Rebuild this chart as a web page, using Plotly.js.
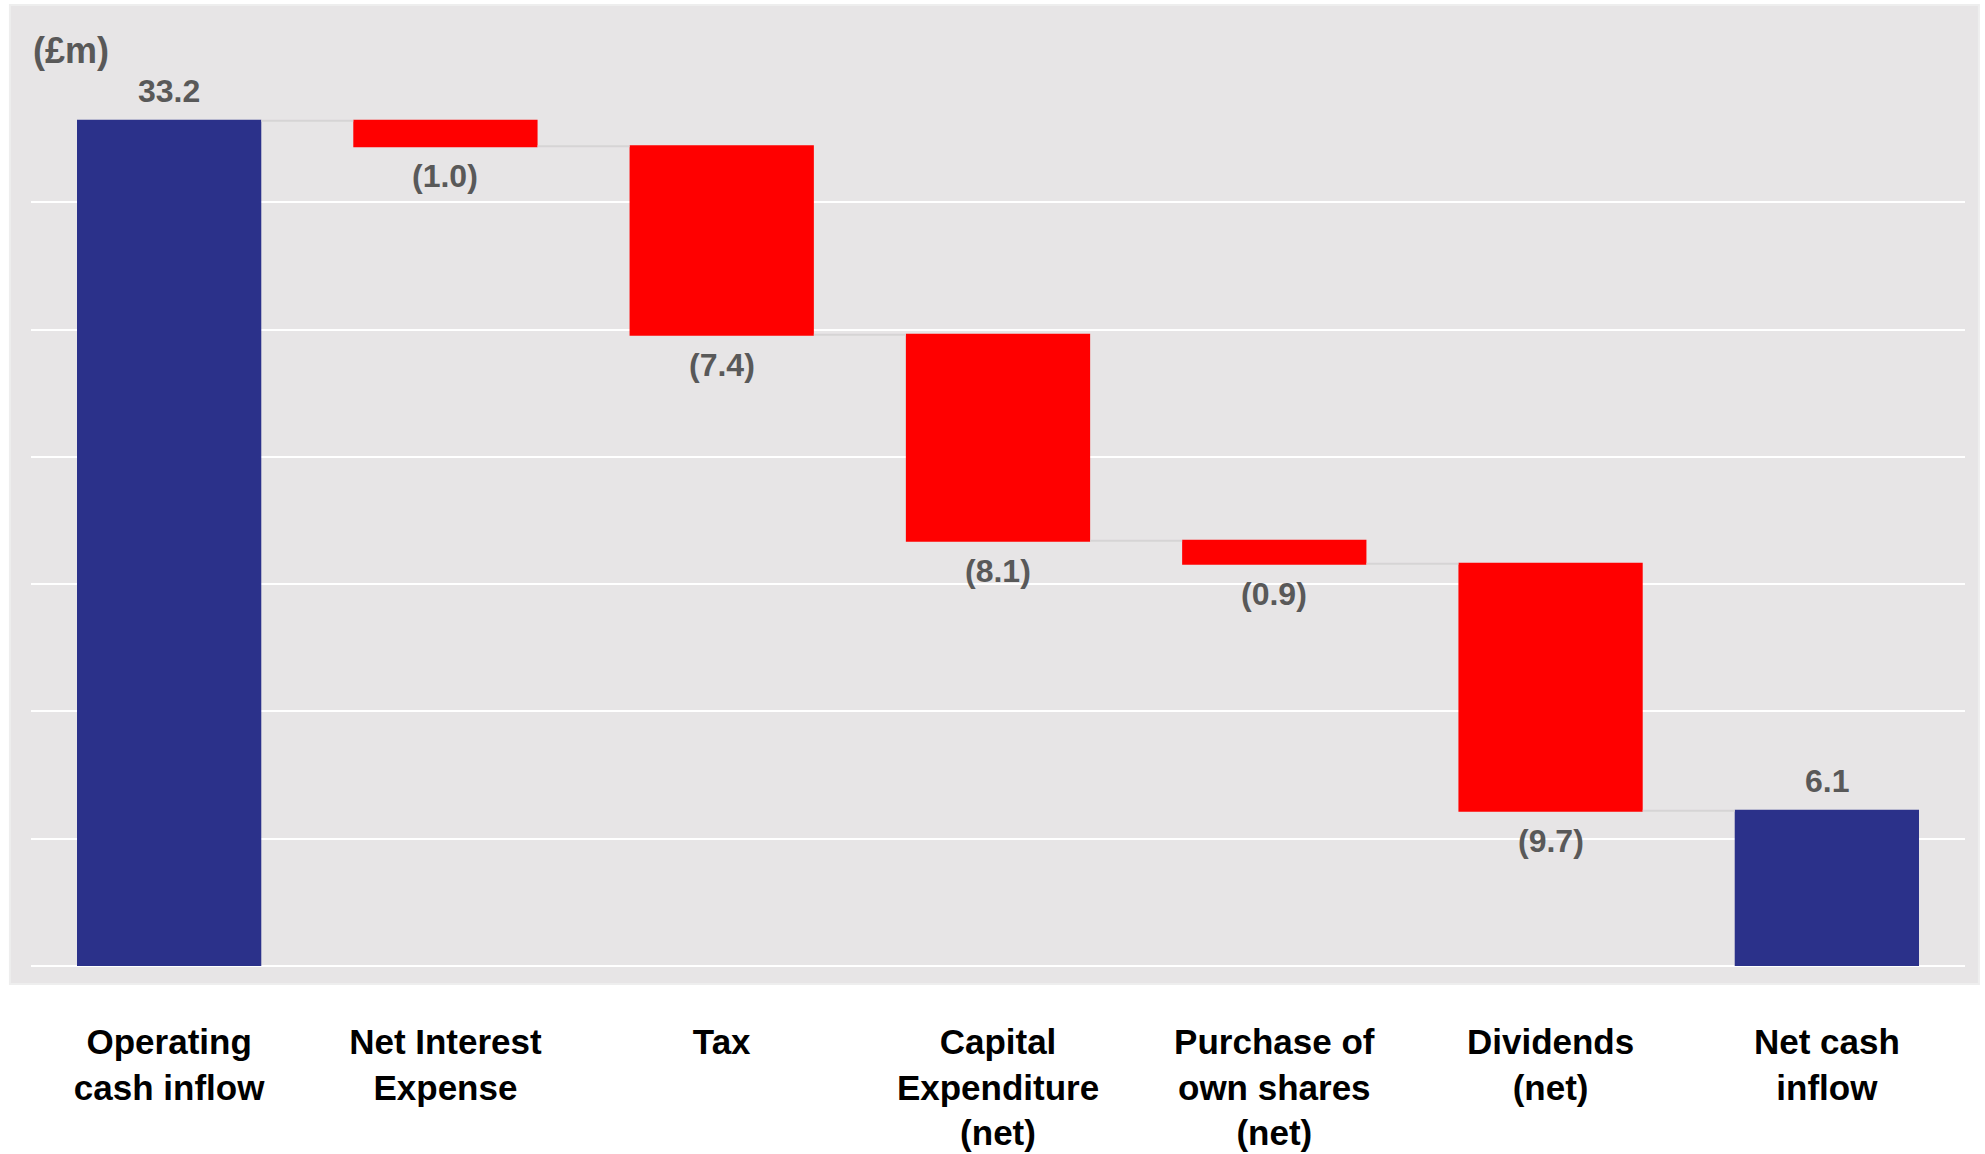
<!DOCTYPE html>
<html>
<head>
<meta charset="utf-8">
<script src="https://cdn.plot.ly/plotly-3.0.1.min.js"></script>
<style>
  html, body { margin: 0; padding: 0; background: #ffffff; }
  #chart { width: 1985px; height: 1154px; }
</style>
</head>
<body>
<div id="chart"></div>
<script>
// ---- data ----
const categories = [
  "Operating cash inflow",
  "Net Interest Expense",
  "Tax",
  "Capital Expenditure (net)",
  "Purchase of own shares (net)",
  "Dividends (net)",
  "Net cash inflow"
];
const tickLabels = [
  "Operating<br>cash inflow",
  "Net Interest<br>Expense",
  "Tax",
  "Capital<br>Expenditure<br>(net)",
  "Purchase of<br>own shares<br>(net)",
  "Dividends<br>(net)",
  "Net cash<br>inflow"
];
const values = [33.2, -1.0, -7.4, -8.1, -0.9, -9.7, 6.1];
const measures = ["absolute", "relative", "relative", "relative", "relative", "relative", "total"];
const valueLabels = ["33.2", "(1.0)", "(7.4)", "(8.1)", "(0.9)", "(9.7)", "6.1"];
const unitLabel = "(£m)";

// ---- styling ----
const BLUE = "#2B318A";
const RED = "#FF0000";
const PANEL = "#E7E5E6";
const FONT = "Liberation Sans, Arial, Helvetica, sans-serif";
const LABEL_FONT = { family: FONT, size: 32, color: "#595959", weight: "bold" };

const trace = {
  type: "waterfall",
  x: categories,
  y: values,
  measure: measures,
  textinfo: "none",
  increasing: { marker: { color: BLUE } },
  decreasing: { marker: { color: RED } },
  totals: { marker: { color: BLUE } },
  connector: { mode: "between", line: { color: "#D6D4D5", width: 2 } },
  hoverinfo: "skip",
  showlegend: false
};

// value labels placed at each bar's end (running total from the data)
const labelAnnotations = [];
let running = 0;
categories.forEach((c, i) => {
  let endVal;
  if (measures[i] === "absolute") { running = values[i]; endVal = running; }
  else if (measures[i] === "total") { endVal = running; }
  else { running += values[i]; endVal = running; }
  const down = values[i] < 0 && measures[i] === "relative";
  labelAnnotations.push({
    xref: "x", yref: "y",
    x: c, y: endVal,
    text: valueLabels[i],
    showarrow: false,
    xanchor: "center",
    yanchor: down ? "top" : "bottom",
    yshift: down ? -10 : 10,
    font: LABEL_FONT
  });
});

const layout = {
  width: 1985,
  height: 1154,
  margin: { l: 31, r: 20, t: 75, b: 188 },
  paper_bgcolor: "#FFFFFF",
  plot_bgcolor: "rgba(0,0,0,0)",
  waterfallgap: 0.333,
  font: { family: FONT },
  xaxis: {
    type: "category",
    tickvals: categories,
    ticktext: tickLabels,
    ticks: "",
    showgrid: false,
    showline: false,
    zeroline: false,
    ticklabelstandoff: 52,
    tickfont: { family: FONT, size: 35, color: "#000000", weight: "bold" },
    fixedrange: true
  },
  yaxis: {
    range: [0, 35],
    dtick: 5,
    tick0: 0,
    showticklabels: false,
    ticks: "",
    showgrid: true,
    gridcolor: "#FFFFFF",
    gridwidth: 2,
    zeroline: true,
    zerolinecolor: "#FFFFFF",
    zerolinewidth: 2,
    showline: false,
    fixedrange: true
  },
  shapes: [
    {
      type: "rect",
      xref: "paper", yref: "paper",
      x0: -0.0109, x1: 1.0072,
      y0: -0.0202, y1: 1.0786,
      fillcolor: PANEL,
      line: { color: "#EEEEEE", width: 2 },
      layer: "below"
    }
  ],
  annotations: [
    {
      xref: "paper", yref: "paper",
      x: 0.0, y: 1.028,
      xanchor: "left", yanchor: "middle",
      text: unitLabel,
      showarrow: false,
      font: { family: FONT, size: 36, color: "#595959", weight: "bold" }
    }
  ].concat(labelAnnotations)
};

Plotly.newPlot("chart", [trace], layout, { staticPlot: true, displayModeBar: false });
</script>
</body>
</html>
